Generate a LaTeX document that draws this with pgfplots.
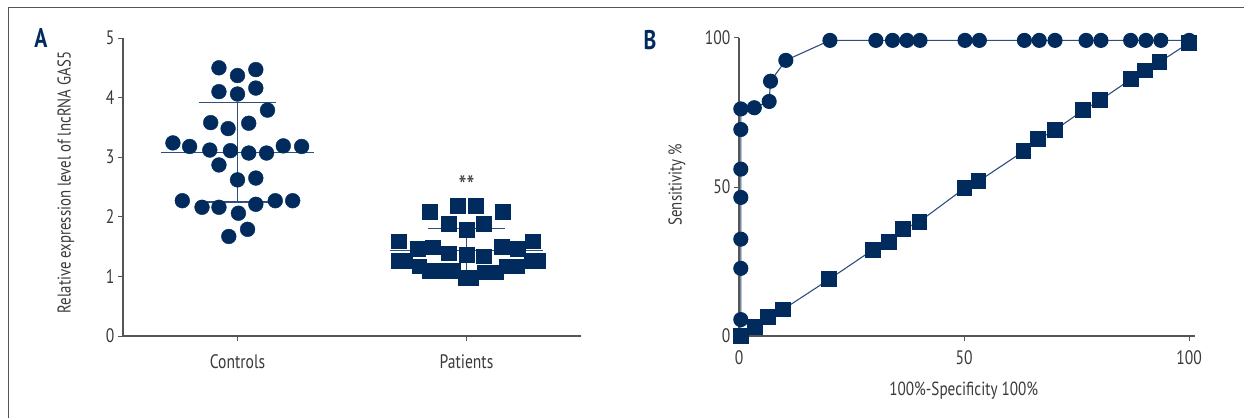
\documentclass[border=0pt]{standalone}
\usepackage{fontspec}
\setmainfont{PT Sans}[FakeStretch=0.8]
\usepackage{pgfplots}
\pgfplotsset{compat=1.18}
\definecolor{navy}{HTML}{002B5C}
\definecolor{lineblue}{HTML}{2E4E7E}
\definecolor{axgray}{HTML}{555555}
\definecolor{txtgray}{HTML}{3A3A3A}
\begin{document}
\begin{tikzpicture}[x=1pt,y=1pt]
\useasboundingbox (0,0) rectangle (1244,418);
\draw[axgray, line width=0.9pt] (8,0) -- (8,411) -- (1244,411);
\node[font=\bfseries\fontsize{27}{30}\selectfont, text=navy] at (41,380) {A};
\node[font=\bfseries\fontsize{27}{30}\selectfont, text=navy] at (650,378) {B};
\begin{axis}[at={(123pt,82pt)}, anchor=south west, scale only axis,
  width=458pt, height=298pt, xmin=-0.5, xmax=1.5, ymin=0, ymax=5,
  axis lines=left, axis line style={axgray, line width=1.2pt, -},
  xtick={0,1}, xticklabels={Controls,Patients}, ytick={0,1,2,3,4,5},
  tick align=outside, major tick length=5pt, tick style={axgray, line width=1pt},
  ticklabel style={font=\fontsize{19.5}{22}\selectfont, text=txtgray},
  xticklabel style={yshift=-10pt},
  /pgf/number format/assume math mode=true,
  ylabel={Relative expression level of lncRNA GAS5},
  ylabel style={at={(axis description cs:-0.1245,0.515)}, anchor=center, font=\fontsize{18.5}{20}\selectfont, text=txtgray},
  clip=false]
% mean and SD lines
\addplot[lineblue, line width=1.3pt] coordinates {(-0.335,3.08) (0.335,3.08)};
\addplot[lineblue, line width=1.3pt] coordinates {(-0.168,3.92) (0.168,3.92)};
\addplot[lineblue, line width=1.3pt] coordinates {(-0.168,2.25) (0.168,2.25)};
\addplot[lineblue, line width=1.3pt] coordinates {(0,2.25) (0,3.92)};
\addplot[lineblue, line width=1.3pt] coordinates {(0.664,1.44) (1.336,1.44)};
\addplot[lineblue, line width=1.3pt] coordinates {(0.832,1.80) (1.168,1.80)};
\addplot[lineblue, line width=1.3pt] coordinates {(0.832,1.08) (1.168,1.08)};
\addplot[lineblue, line width=1.3pt] coordinates {(1,1.08) (1,1.80)};
% controls
\addplot[only marks, mark=*, mark size=7.4pt, mark options={draw=navy, fill=navy}] coordinates {
(-0.081,4.50) (0.000,4.37) (0.080,4.47) (-0.081,4.10) (0.000,4.06) (0.080,4.16)
(0.131,3.79) (-0.117,3.58) (-0.041,3.48) (0.049,3.57) (-0.282,3.24) (-0.209,3.18)
(-0.121,3.12) (-0.031,3.11) (0.049,3.07) (0.127,3.07) (0.200,3.19) (0.280,3.18)
(-0.081,2.87) (0.000,2.62) (0.080,2.65) (-0.241,2.27) (-0.155,2.16) (-0.081,2.16)
(0.004,2.06) (0.080,2.21) (0.165,2.27) (0.241,2.27) (0.044,1.79) (-0.038,1.67)};
% patients
\addplot[only marks, mark=square*, mark size=7.4pt, mark options={draw=navy, fill=navy}] coordinates {
(0.839,2.08) (0.962,2.19) (1.041,2.19) (1.159,2.08) (0.922,1.88) (1.001,1.78)
(1.076,1.88) (0.703,1.59) (0.787,1.47) (0.852,1.49) (0.922,1.39) (1.000,1.37)
(1.076,1.34) (1.152,1.50) (1.225,1.47) (1.290,1.59) (0.703,1.26) (0.730,1.26)
(0.793,1.17) (0.839,1.10) (0.890,1.10) (0.940,1.10) (0.996,0.98) (1.019,0.98)
(1.080,1.07) (1.127,1.07) (1.175,1.17) (1.219,1.17) (1.285,1.26) (1.310,1.26)};
\node[font=\fontsize{28}{30}\selectfont, text=txtgray] at (axis cs:1,2.52) {**};
\end{axis}
\begin{axis}[at={(739pt,82pt)}, anchor=south west, scale only axis,
  width=456pt, height=298pt, xmin=0, xmax=101.3, ymin=0, ymax=100,
  axis lines=left, axis line style={axgray, line width=1.2pt, -},
  xtick={0,50,100}, ytick={0,50,100},
  tick align=outside, major tick length=5pt, tick style={axgray, line width=1pt},
  ticklabel style={font=\fontsize{19.5}{22}\selectfont, text=txtgray},
  xticklabel style={yshift=-6pt},
  /pgf/number format/assume math mode=true,
  xlabel={100\%-Specificity 100\%},
  xlabel style={at={(axis description cs:0.493,-0.184)}, anchor=center, font=\fontsize{19}{22}\selectfont, text=txtgray},
  ylabel={Sensitivity \%},
  ylabel style={at={(axis description cs:-0.136,0.507)}, anchor=center, font=\fontsize{18.5}{20}\selectfont, text=txtgray},
  clip=false]
\addplot[lineblue, line width=1.1pt, mark=*, mark size=7pt, mark options={draw=navy, fill=navy}] coordinates {
(0.4,0) (0.4,5.5) (0.4,22.7) (0.4,32.5) (0.4,46.5) (0.4,56.0) (0.4,69.3) (0.4,76.2)
(3.4,76.6) (6.7,78.7) (7.0,85.5) (10.4,92.5) (20.2,99.2) (30.4,99.2) (34.1,99.2)
(37.3,99.2) (40.2,99.2) (50.2,99.2) (53.4,99.2) (63.4,99.2) (66.7,99.2) (70.2,99.2)
(77.1,99.2) (80.4,99.2) (87.0,99.2) (90.4,99.2) (93.7,99.2) (100,99.2)};
\addplot[lineblue, line width=1.1pt, mark=square*, mark size=7.4pt, mark options={draw=navy, fill=navy}] coordinates {
(0.5,0) (3.6,3.0) (6.5,6.4) (9.8,8.9) (20.0,19.0) (29.7,28.9) (33.4,31.6) (36.5,35.8)
(40.1,38.4) (50.1,49.6) (53.2,51.9) (63.2,62.0) (66.5,66.1) (70.1,69.0) (76.5,75.8)
(80.2,79.1) (87.0,86.1) (90.1,89.1) (93.4,91.9) (100,98.4)};
\end{axis}
\end{tikzpicture}
\end{document}
